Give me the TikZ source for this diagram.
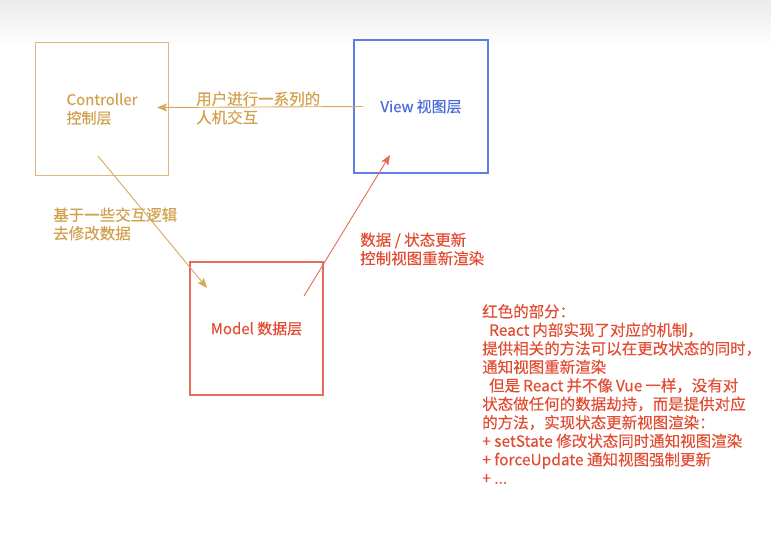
\documentclass[tikz,border=0pt]{standalone}
\usepackage{fontspec}
\setmainfont[FakeBold=0.35]{Noto Sans CJK SC}
\usetikzlibrary{arrows.meta}
\definecolor{goldbox}{RGB}{222,184,120}
\definecolor{goldtxt}{RGB}{210,160,76}
\definecolor{goldline}{RGB}{214,168,92}
\definecolor{bluebox}{RGB}{95,125,228}
\definecolor{bluetxt}{RGB}{72,106,218}
\definecolor{redbox}{RGB}{228,108,88}
\definecolor{redtxt}{RGB}{226,76,50}
\newcommand{\gp}{\hspace{3pt}}
\tikzset{
  layer/.style={draw, line width=1.2pt, minimum width=133pt, minimum height=133pt, inner sep=0pt, align=left, font=\fontsize{15}{18.5}\selectfont},
  lbl/.style={anchor=west, align=left, inner sep=0pt, font=\fontsize{15.5}{18.5}\selectfont},
  conn/.style={line width=0.9pt, -{Stealth[length=10pt,width=8pt,inset=2pt]}}
}
\begin{document}
\begin{tikzpicture}[x=1pt,y=-1pt]
\useasboundingbox (0,0) rectangle (771,536);
\shade[top color=black!8, bottom color=white] (0,0) rectangle (771,46);
% boxes
\node[layer, draw=goldbox, text=goldtxt] (ctrl) at (102,109) {Controller\\控制层};
\node[layer, draw=bluebox, text=bluetxt, minimum width=134pt] (view) at (421,106.5) {View\gp 视图层};
\node[layer, draw=redbox, text=redtxt] (model) at (256.5,328.5) {Model 数据层};
% connector points
\coordinate (vc1) at (363,106.5);
\coordinate (vc2) at (157,107.5);
\coordinate (cm1) at (98,156);
\coordinate (cm2) at (207,288);
\coordinate (mv1) at (304,296);
\coordinate (mv2) at (390,155);
\draw[conn, draw=goldline, color=goldline] (vc1) -- (vc2);
\draw[conn, draw=goldline, color=goldline] (cm1) -- (cm2);
\draw[conn, draw=redbox, color=redbox] (mv1) -- (mv2);
% labels
\node[lbl, text=goldtxt] (lab1) at (196,108) {用户进行一系列的\\人机交互};
\node[lbl, text=goldtxt] (lab2) at (53,224) {基于一些交互逻辑\\去修改数据};
\node[lbl, text=redtxt] (lab3) at (360,249) {数据 / 状态更新\\控制视图重新渲染};
\node[lbl, text=redtxt, anchor=north west] (note) at (482,304) {红色的部分：\\
\ \ React\gp 内部实现了对应的机制，\\
提供相关的方法可以在更改状态的同时，\\
通知视图重新渲染\\
\ \ 但是\gp React\gp 并不像\gp Vue\gp 一样，没有对\\
状态做任何的数据劫持，而是提供对应\\
的方法，实现状态更新视图渲染：\\
+ setState 修改状态同时通知视图渲染\\
+ forceUpdate 通知视图强制更新\\
+ ...};
\end{tikzpicture}
\end{document}
